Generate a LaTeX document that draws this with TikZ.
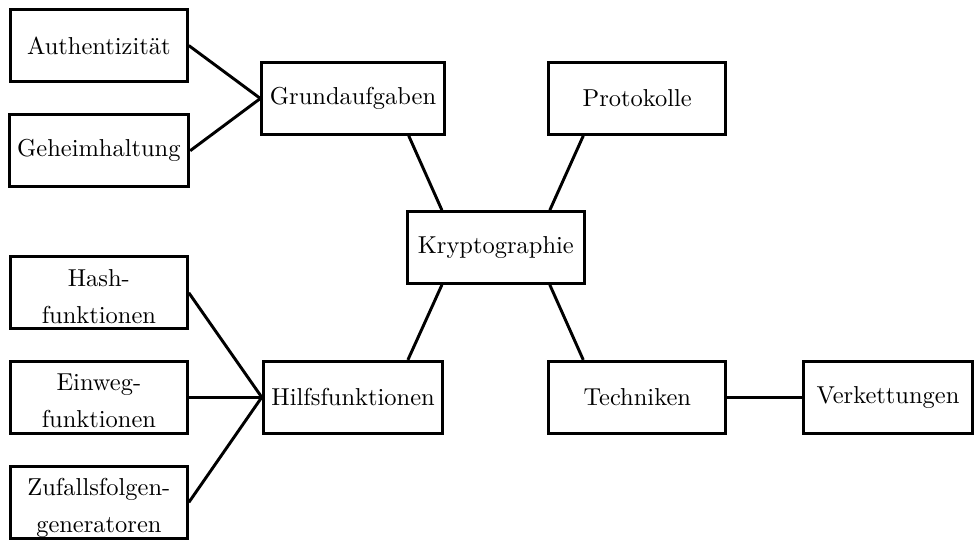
\documentclass[tikz,border=0pt]{standalone}
\usepackage{fontspec}
\usepackage{tikz}
\usetikzlibrary{positioning, calc}
\tikzset{
    topic/.style={rectangle, minimum width=2.54cm, minimum height=1.03cm, text centered, draw=black, very thick, font={\fontsize{10pt}{15pt}\selectfont}},
    twoline/.style={topic, align=center, inner ysep=1pt, text height=24.7pt, text depth=0pt},
    link/.style={very thick}
}

\begin{document}
\begin{tikzpicture}
        \useasboundingbox (0,0) rectangle (14,7.754);
        % Center
        \node (krypto) [topic] at (7.12, 4.20) {Kryptographie};

        % Main branches
        \node (grund) [topic] at (5.07, 6.34) {Grundaufgaben};
        \node (proto) [topic] at (9.15, 6.34) {Protokolle};
        \node (hilfs) [topic] at (5.07, 2.05) {Hilfsfunktionen};
        \node (tech) [topic] at (9.15, 2.05) {Techniken};

        % Leaves
        \node (auth) [topic] at (1.42, 7.10) {Authentizität};
        \node (geheim) [topic] at (1.42, 5.59) {Geheimhaltung};
        \node (hash) [twoline] at (1.42, 3.55) {Hash-\\funktionen};
        \node (einweg) [twoline] at (1.42, 2.05) {Einweg-\\funktionen};
        \node (zufall) [twoline] at (1.42, 0.54) {Zufallsfolgen-\\generatoren};
        \node (verk) [topic, minimum width=2.43cm] at (12.75, 2.05) {Verkettungen};

        % Links
        \draw[link] ($(krypto.north west)!0.2!(krypto.north east)$) -- ($(grund.south west)!0.8!(grund.south east)$);
        \draw[link] ($(krypto.north west)!0.8!(krypto.north east)$) -- ($(proto.south west)!0.2!(proto.south east)$);
        \draw[link] ($(krypto.south west)!0.2!(krypto.south east)$) -- ($(hilfs.north west)!0.8!(hilfs.north east)$);
        \draw[link] ($(krypto.south west)!0.8!(krypto.south east)$) -- ($(tech.north west)!0.2!(tech.north east)$);

        \draw[link] (auth.east) -- (grund.west);
        \draw[link] (geheim.east) -- (grund.west);
        \draw[link] (hash.east) -- (hilfs.west);
        \draw[link] (einweg.east) -- (hilfs.west);
        \draw[link] (zufall.east) -- (hilfs.west);
        \draw[link] (tech) -- (verk);
    \end{tikzpicture}
\end{document}
